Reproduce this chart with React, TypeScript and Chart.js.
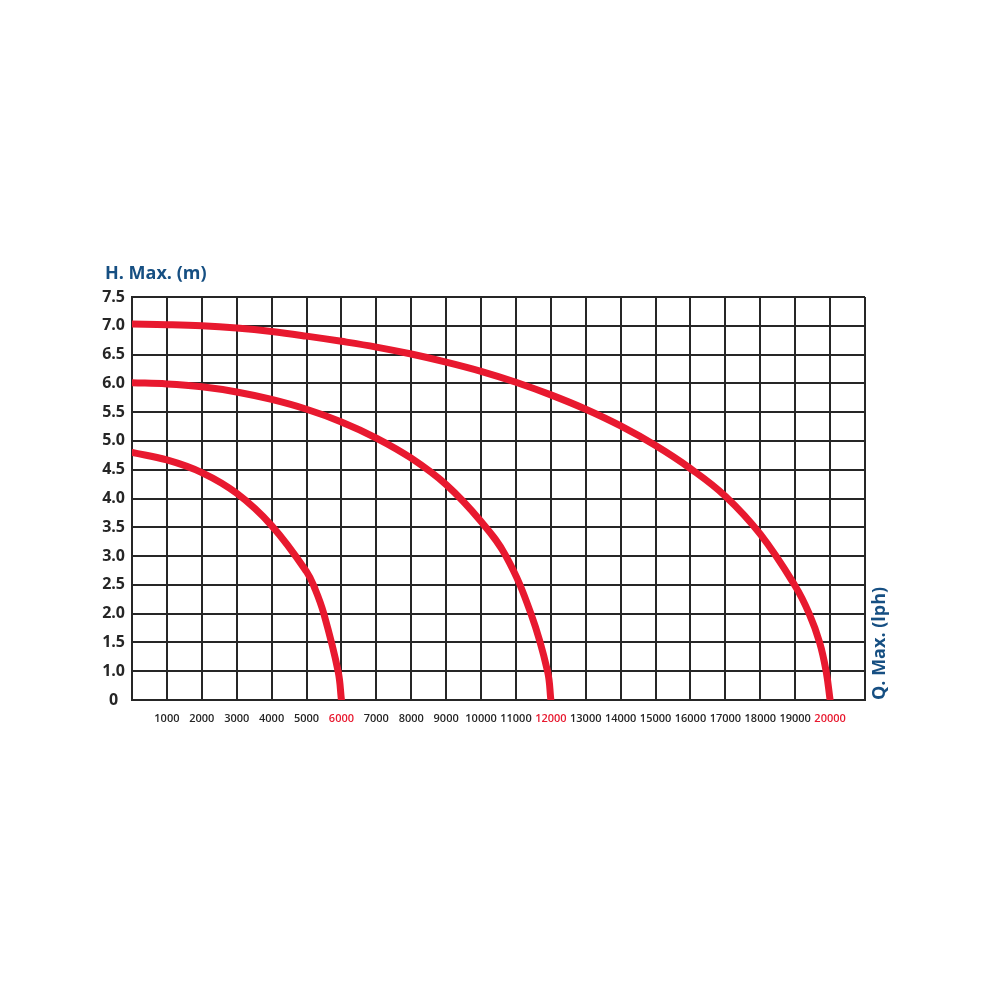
import { useEffect, useRef } from 'react';
import { Chart, registerables } from 'chart.js';

Chart.register(...registerables);

// flow (l/h) and head (m)
const flowSmall = [0, 1000, 2000, 3000, 4000, 5000, 5250, 5495, 5905, 6000];
const headSmall = [4.8, 4.67, 4.45, 4.09, 3.53, 2.73, 2.42, 2.0, 1.0, 0];

const flowMid = [0, 1000, 2000, 3000, 4000, 5000, 6000, 7000, 8000, 9000, 10000, 10714, 11429, 11905, 12000];
const headMid = [6.01, 5.99, 5.94, 5.85, 5.72, 5.55, 5.33, 5.05, 4.7, 4.24, 3.6, 3.0, 2.0, 1.0, 0];

const flowBig = [0, 1000, 2000, 3000, 4000, 5000, 6000, 7000, 8000, 9000, 10000, 11000, 12000, 13000, 14000, 15000, 16000, 17000, 18000, 19000, 19400, 19700, 19886, 20000];
const headBig = [7.03, 7.02, 7.0, 6.96, 6.9, 6.82, 6.73, 6.63, 6.51, 6.37, 6.21, 6.02, 5.8, 5.55, 5.26, 4.92, 4.52, 4.04, 3.38, 2.48, 2.0, 1.5, 1.0, 0];

const headTicks = [0, 1.0, 1.5, 2.0, 2.5, 3.0, 3.5, 4.0, 4.5, 5.0, 5.5, 6.0, 6.5, 7.0, 7.5];
const maxFlows = [6000, 12000, 20000];

const RED = '#e8192f';
const BLUE = '#164f82';
const INK = '#262626';

// the bottom cell of the grid spans 0..1.0 m, every other cell 0.5 m
const toAxis = (h: number) => (h < 1 ? 0.5 + h / 2 : h);

const toPoints = (flows: number[], heads: number[]) =>
    flows.map((x, i) => ({ x, y: toAxis(heads[i]) }));

const axisTitles = {
    id: 'axisTitles',
    afterDraw(chart: Chart) {
        const { ctx, chartArea } = chart;
        ctx.save();
        ctx.fillStyle = BLUE;
        ctx.font = 'bold 18px "Open Sans"';
        ctx.textBaseline = 'middle';
        ctx.textAlign = 'left';
        ctx.fillText('H. Max. (m)', chartArea.left - 27, chartArea.top - 23);
        ctx.translate(chartArea.right + 15, chartArea.bottom);
        ctx.rotate(-Math.PI / 2);
        ctx.fillText('Q. Max. (lph)', 0, 0);
        ctx.restore();
    },
};

const PumpCurves = () => {
    const chartRef = useRef<HTMLCanvasElement | null>(null);
    const chartInstance = useRef<Chart<'line'> | null>(null);

    useEffect(() => {
        if (!chartRef.current) return;
        if (chartInstance.current) chartInstance.current.destroy();

        const curve = (flows: number[], heads: number[]) => ({
            data: toPoints(flows, heads),
            borderColor: RED,
            borderWidth: 7,
            borderCapStyle: 'round' as const,
            borderJoinStyle: 'round' as const,
            pointRadius: 0,
            tension: 0.4,
            fill: false,
        });

        chartInstance.current = new Chart(chartRef.current, {
            type: 'line',
            data: {
                datasets: [
                    curve(flowSmall, headSmall),
                    curve(flowMid, headMid),
                    curve(flowBig, headBig),
                ],
            },
            options: {
                animation: false,
                responsive: true,
                maintainAspectRatio: false,
                layout: { padding: { top: 289, right: 117, bottom: 252, left: 0 } },
                plugins: {
                    legend: { display: false },
                    tooltip: { enabled: false },
                },
                scales: {
                    x: {
                        type: 'linear',
                        min: 0,
                        max: 21000,
                        afterFit: (s: any) => { s.height = 30; },
                        ticks: {
                            stepSize: 1000,
                            autoSkip: false,
                            maxRotation: 0,
                            padding: 12,
                            font: { family: 'Open Sans', size: 11, weight: 600 },
                            color: (c: any) => (maxFlows.includes(c.tick?.value) ? RED : INK),
                            callback: (v: any) => (v >= 1000 && v <= 20000 ? String(v) : ''),
                        },
                        grid: { color: INK, lineWidth: 2, drawTicks: false },
                        border: { display: true, color: INK, width: 2 },
                    },
                    y: {
                        type: 'linear',
                        min: 0.5,
                        max: 7.5,
                        afterFit: (s: any) => { s.width = 124; },
                        afterBuildTicks: (s: any) => {
                            s.ticks = headTicks.map((h) => ({ value: toAxis(h) }));
                        },
                        ticks: {
                            padding: 7,
                            crossAlign: 'center',
                            font: { family: 'Open Sans', size: 16, weight: 'bold' },
                            color: INK,
                            callback: (v: any) => {
                                const h = headTicks.find((t) => toAxis(t) === v);
                                if (h === undefined) return '';
                                return h === 0 ? '0' : h.toFixed(1);
                            },
                        },
                        grid: { color: INK, lineWidth: 2, drawTicks: false },
                        border: { display: true, color: INK, width: 2 },
                    },
                },
            },
            plugins: [axisTitles],
        });

        return () => {
            if (chartInstance.current) {
                chartInstance.current.destroy();
                chartInstance.current = null;
            }
        };
    }, []);

    return (
        <div style={{ position: 'relative', width: '974px', height: '974px' }}>
            <canvas ref={chartRef}></canvas>
        </div>
    );
};

export default function App() {
    return <PumpCurves />;
}
